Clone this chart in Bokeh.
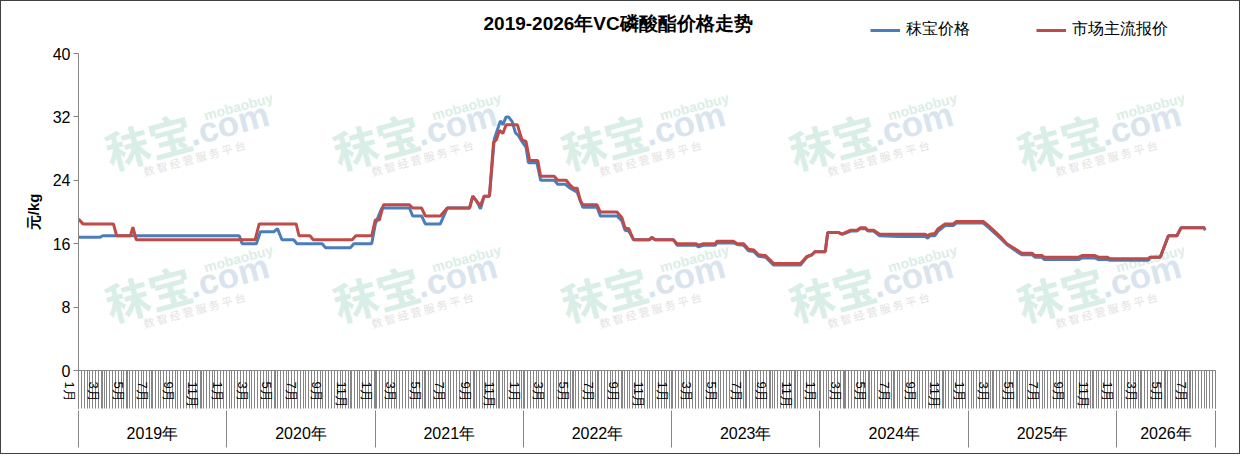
import math
import pandas as pd
from bokeh.plotting import figure
from bokeh.models import (Range1d, LinearAxis, FixedTicker, Legend, LegendItem, Label)
from bokeh.embed import file_html
from bokeh.resources import INLINE

# ---------------- data ----------------
title_text = "2019-2026年VC磷酸酯价格走势"
series_names = ["秣宝价格", "市场主流报价"]
y_label = "元/kg"
y_ticks = [0, 8, 16, 24, 32, 40]
years = [2019, 2020, 2021, 2022, 2023, 2024, 2025, 2026]
month_label_months = [1, 3, 5, 7, 9, 11]
axis_start = "2019-01-01"
axis_end = "2026-09-01"

blue_dates = [
    "2019-01-01", "2019-02-22", "2019-03-02", "2020-02-01", "2020-02-08", "2020-03-14",
    "2020-03-24", "2020-04-26", "2020-05-05", "2020-05-16", "2020-06-14", "2020-06-22",
    "2020-08-23", "2020-08-31", "2020-11-01", "2020-11-09", "2020-12-23", "2021-01-01",
    "2021-01-17", "2021-03-26", "2021-04-03", "2021-04-25", "2021-05-04", "2021-06-10",
    "2021-06-27", "2021-08-21", "2021-08-29", "2021-09-07", "2021-09-17", "2021-09-26",
    "2021-10-09", "2021-10-21", "2021-11-05", "2021-11-11", "2021-11-19", "2021-11-25",
    "2021-12-04", "2021-12-12", "2021-12-20", "2021-12-28", "2022-01-07", "2022-01-13",
    "2022-02-03", "2022-02-12", "2022-03-18", "2022-03-26", "2022-04-14", "2022-04-26",
    "2022-05-13", "2022-05-27", "2022-07-01", "2022-07-09", "2022-08-19", "2022-08-31",
    "2022-09-08", "2022-09-17", "2022-09-29", "2022-11-07", "2022-11-13", "2022-11-21",
    "2023-01-05", "2023-01-14", "2023-03-02", "2023-03-08", "2023-03-20", "2023-04-18",
    "2023-04-22", "2023-06-02", "2023-06-11", "2023-06-27", "2023-07-09", "2023-07-22",
    "2023-08-03", "2023-08-20", "2023-09-09", "2023-11-14", "2023-11-30", "2023-12-12",
    "2023-12-20", "2024-01-14", "2024-01-20", "2024-02-16", "2024-02-24", "2024-03-03",
    "2024-03-17", "2024-04-01", "2024-04-09", "2024-04-22", "2024-04-28", "2024-05-12",
    "2024-05-27", "2024-07-13", "2024-09-16", "2024-09-22", "2024-09-28", "2024-10-10",
    "2024-10-18", "2024-11-04", "2024-11-24", "2024-12-02", "2025-02-06", "2025-02-18",
    "2025-03-03", "2025-03-20", "2025-04-05", "2025-04-30", "2025-05-12", "2025-06-06",
    "2025-06-14", "2025-07-01", "2025-07-06", "2025-09-29", "2025-10-07", "2025-11-08",
    "2025-11-17", "2025-12-08", "2025-12-16", "2026-03-20", "2026-03-24", "2026-04-18",
    "2026-05-08", "2026-05-29", "2026-06-08", "2026-08-03", "2026-08-07",
]
blue_vals = [
    16.8, 16.8, 17.0, 17.0, 16.0, 16.0,
    17.5, 17.5, 17.9, 16.5, 16.5, 16.0,
    16.0, 15.5, 15.5, 16.0, 16.0, 18.5,
    20.5, 20.5, 19.5, 19.5, 18.5, 18.5,
    20.5, 20.5, 22.0, 21.4, 20.4, 22.0,
    22.0, 29.2, 31.5, 31.0, 32.0, 32.0,
    31.4, 30.0, 29.6, 28.9, 28.2, 26.2,
    26.2, 24.0, 24.0, 23.5, 23.5, 23.0,
    22.5, 20.6, 20.6, 19.5, 19.5, 18.9,
    17.7, 17.6, 16.5, 16.5, 16.8, 16.5,
    16.5, 15.8, 15.8, 15.6, 15.8, 15.8,
    16.1, 16.1, 15.9, 15.8, 15.1, 15.0,
    14.4, 14.3, 13.3, 13.3, 14.3, 14.6,
    15.0, 15.0, 17.4, 17.4, 17.2, 17.3,
    17.6, 17.6, 17.9, 17.9, 17.6, 17.6,
    17.0, 16.9, 16.9, 16.7, 17.0, 17.0,
    17.6, 18.3, 18.3, 18.6, 18.6, 18.1,
    17.5, 16.7, 15.9, 15.0, 14.6, 14.6,
    14.3, 14.3, 14.0, 14.0, 14.2, 14.2,
    14.0, 14.0, 13.9, 13.9, 14.3, 14.3,
    17.0, 17.0, 18.0, 18.0, 17.7,
]

red_dates = [
    "2019-01-01", "2019-01-12", "2019-03-28", "2019-04-05", "2019-05-09", "2019-05-15",
    "2019-05-23", "2020-03-11", "2020-03-21", "2020-06-20", "2020-06-27", "2020-07-24",
    "2020-08-01", "2020-11-05", "2020-11-14", "2020-12-23", "2021-01-01", "2021-01-11",
    "2021-01-21", "2021-03-26", "2021-04-03", "2021-04-25", "2021-05-04", "2021-06-10",
    "2021-06-27", "2021-08-21", "2021-08-29", "2021-09-07", "2021-09-17", "2021-09-26",
    "2021-10-09", "2021-10-19", "2021-10-26", "2021-11-03", "2021-11-11", "2021-11-19",
    "2021-12-17", "2021-12-28", "2022-01-07", "2022-01-16", "2022-02-05", "2022-02-12",
    "2022-03-18", "2022-03-26", "2022-04-16", "2022-04-24", "2022-05-04", "2022-05-13",
    "2022-05-21", "2022-05-27", "2022-07-01", "2022-07-09", "2022-08-19", "2022-08-31",
    "2022-09-08", "2022-09-17", "2022-09-29", "2022-11-07", "2022-11-13", "2022-11-21",
    "2023-01-05", "2023-01-14", "2023-03-02", "2023-03-08", "2023-03-20", "2023-04-18",
    "2023-04-22", "2023-06-02", "2023-06-11", "2023-06-27", "2023-07-09", "2023-07-22",
    "2023-08-03", "2023-08-20", "2023-09-09", "2023-11-14", "2023-11-30", "2023-12-12",
    "2023-12-20", "2024-01-14", "2024-01-20", "2024-02-16", "2024-02-24", "2024-03-03",
    "2024-03-17", "2024-04-01", "2024-04-09", "2024-04-22", "2024-04-28", "2024-05-12",
    "2024-05-27", "2024-09-16", "2024-09-22", "2024-09-28", "2024-10-10", "2024-10-18",
    "2024-11-04", "2024-11-24", "2024-12-02", "2025-02-06", "2025-02-18", "2025-03-03",
    "2025-03-20", "2025-04-05", "2025-04-30", "2025-05-12", "2025-06-06", "2025-06-14",
    "2025-07-01", "2025-07-06", "2025-09-29", "2025-10-07", "2025-11-08", "2025-11-17",
    "2025-12-08", "2025-12-16", "2026-03-20", "2026-03-24", "2026-04-18", "2026-05-08",
    "2026-05-29", "2026-06-08", "2026-08-07",
]
red_vals = [
    19.1, 18.5, 18.5, 17.0, 17.0, 18.1,
    16.5, 16.5, 18.5, 18.5, 17.0, 17.0,
    16.5, 16.5, 17.0, 17.0, 19.0, 19.0,
    20.9, 20.9, 20.5, 20.5, 19.5, 19.5,
    20.5, 20.5, 22.0, 21.4, 20.8, 22.0,
    22.0, 28.8, 29.1, 30.3, 29.9, 31.0,
    31.0, 29.1, 28.9, 26.5, 26.5, 24.5,
    24.5, 24.0, 24.0, 23.5, 23.0, 23.0,
    21.4, 20.9, 20.9, 20.0, 20.0, 19.3,
    18.0, 17.9, 16.5, 16.5, 16.8, 16.5,
    16.5, 16.0, 16.0, 15.8, 16.0, 16.0,
    16.3, 16.3, 16.0, 16.0, 15.3, 15.2,
    14.6, 14.5, 13.5, 13.5, 14.4, 14.6,
    15.0, 15.0, 17.4, 17.4, 17.2, 17.4,
    17.7, 17.7, 18.0, 18.0, 17.7, 17.7,
    17.2, 17.2, 17.0, 17.2, 17.3, 17.9,
    18.5, 18.5, 18.8, 18.8, 18.3, 17.7,
    16.9, 16.0, 15.2, 14.8, 14.8, 14.5,
    14.5, 14.3, 14.3, 14.5, 14.5, 14.3,
    14.3, 14.1, 14.1, 14.3, 14.3, 17.0,
    17.0, 18.0, 18.0,
]

# watermark texts
wm_brand = "秣宝"
wm_com = ".com"
wm_site = "mobaobuy"
wm_slogan = "数  智  经  营  服  务  平  台"

# ---------------- helpers ----------------
t0 = pd.Timestamp(axis_start)


def day(d):
    return int((pd.Timestamp(d) - t0).days)


x_end = day(axis_end)
blue_x = [day(d) for d in blue_dates]
red_x = [day(d) for d in red_dates]

week_ticks = list(range(0, x_end + 1, 7))
year_bounds = [day(f"{y}-01-01") for y in years] + [x_end]
year_centers = [int((year_bounds[i] + year_bounds[i + 1]) // 2) for i in range(len(years))]
month_ticks = []
month_overrides = {}
for y in years:
    for m in month_label_months:
        d = day(f"{y}-{m:02d}-01")
        if d < x_end:
            month_ticks.append(d)
            month_overrides[d] = f"\n{m}月"
year_overrides = {c: f"{y}年" for c, y in zip(year_centers, years)}

FONT = "Liberation Sans"
GREY = "#868686"
BLUE = "#4A7EBB"
RED = "#BE4B48"

# frame spans from 10px to 369px (inside the 454px canvas); 0..40 occupies the lower 317px
TOP_PAD = 10
FRAME_H = 369 - TOP_PAD
y_top = y_ticks[-1] * FRAME_H / 317.0

p = figure(width=1240, height=454, x_range=Range1d(0, x_end), y_range=Range1d(0, y_top),
           x_axis_type=None, y_axis_type=None, output_backend="svg", toolbar_location=None,
           min_border_left=77, min_border_right=26, min_border_top=TOP_PAD, min_border_bottom=85,
           background_fill_color="white", border_fill_color="white")
p.outline_line_color = None
p.grid.visible = False
p.styles = {"border": "1px solid #404040"}

# title
p.title.text = title_text
p.title.align = "left"
p.title.offset = 405
p.title.text_font = FONT
p.title.text_font_size = "19px"
p.title.text_font_style = "bold"
p.title.text_color = "#000000"
p.title.standoff = -44

# y axis (label padded so that it is centred on the 0..40 part of the frame)
yax = LinearAxis(ticker=FixedTicker(ticks=y_ticks), axis_label=y_label + " " * 10,
                 bounds=(0, y_ticks[-1]))
yax.major_tick_out = 5
yax.major_tick_in = 0
yax.minor_tick_out = 0
yax.axis_line_color = GREY
yax.major_tick_line_color = GREY
yax.major_label_text_font = FONT
yax.major_label_text_font_size = "16px"
yax.major_label_text_color = "#000000"
yax.major_label_standoff = 3
yax.axis_label_text_font = FONT
yax.axis_label_text_font_size = "15px"
yax.axis_label_text_font_style = "bold"
yax.axis_label_text_color = "#000000"
yax.axis_label_standoff = 8
p.add_layout(yax, "left")

# x axis: weeks with month labels
xax = LinearAxis(ticker=FixedTicker(ticks=month_ticks, minor_ticks=week_ticks + year_bounds))
xax.major_label_overrides = month_overrides
xax.major_label_orientation = "vertical"
xax.major_tick_out = 38
xax.major_tick_in = 0
xax.minor_tick_out = 38
xax.minor_tick_in = 0
xax.axis_line_color = GREY
xax.major_tick_line_color = GREY
xax.minor_tick_line_color = GREY
xax.major_label_text_font = FONT
xax.major_label_text_font_size = "13px"
xax.major_label_text_color = "#000000"
xax.major_label_standoff = -27
p.add_layout(xax, "below")

# x axis: years
yrax = LinearAxis(ticker=FixedTicker(ticks=year_centers, minor_ticks=year_bounds))
yrax.major_label_overrides = year_overrides
yrax.major_tick_out = 0
yrax.major_tick_in = 0
yrax.minor_tick_out = 37
yrax.minor_tick_in = 0
yrax.axis_line_color = None
yrax.minor_tick_line_color = GREY
yrax.major_label_text_font = FONT
yrax.major_label_text_font_size = "16px"
yrax.major_label_text_color = "#000000"
yrax.major_label_standoff = -23
p.add_layout(yrax, "below")

# watermarks (frame-relative screen coordinates)
ang = math.radians(15)
for row_dy in [0, 152]:
    for col in range(5):
        dx = col * 228
        for txt, sx, sy, size, color, style, font in [
            (wm_brand, 70, 78, "44px", "#D9EEE6", "bold", "Noto Sans CJK SC"),
            (wm_com, 150, 95, "35px", "#D9E4EE", "bold", FONT),
            (wm_site, 160, 112, "14px", "#DCEEE6", "bold", FONT),
            (wm_slogan, 124, 63, "11px", "#E2E2E2", "normal", "Noto Sans CJK SC"),
        ]:
            p.add_layout(Label(x=sx + dx, y=sy + row_dy, x_units="screen", y_units="screen",
                               text=txt, angle=ang, text_align="center", text_baseline="middle",
                               text_font_size=size, text_color=color, text_font_style=style,
                               text_font=font, level="underlay"))

rb = p.line(blue_x, blue_vals, line_color=BLUE, line_width=3)
rr = p.line(red_x, red_vals, line_color=RED, line_width=3)

legend = Legend(items=[LegendItem(label=series_names[0], renderers=[rb]),
                       LegendItem(label=series_names[1], renderers=[rr])],
                location=(792, 330), orientation="horizontal")
legend.border_line_color = None
legend.background_fill_alpha = 0
legend.padding = 0
legend.margin = 0
legend.spacing = 0
legend.glyph_width = 30
legend.glyph_height = 20
legend.label_height = 20
legend.label_width = 130
legend.label_standoff = 6
legend.label_text_font = FONT
legend.label_text_font_size = "15.5px"
legend.label_text_color = "#000000"
p.add_layout(legend)

open("out.html", "w").write(file_html(p, INLINE))
